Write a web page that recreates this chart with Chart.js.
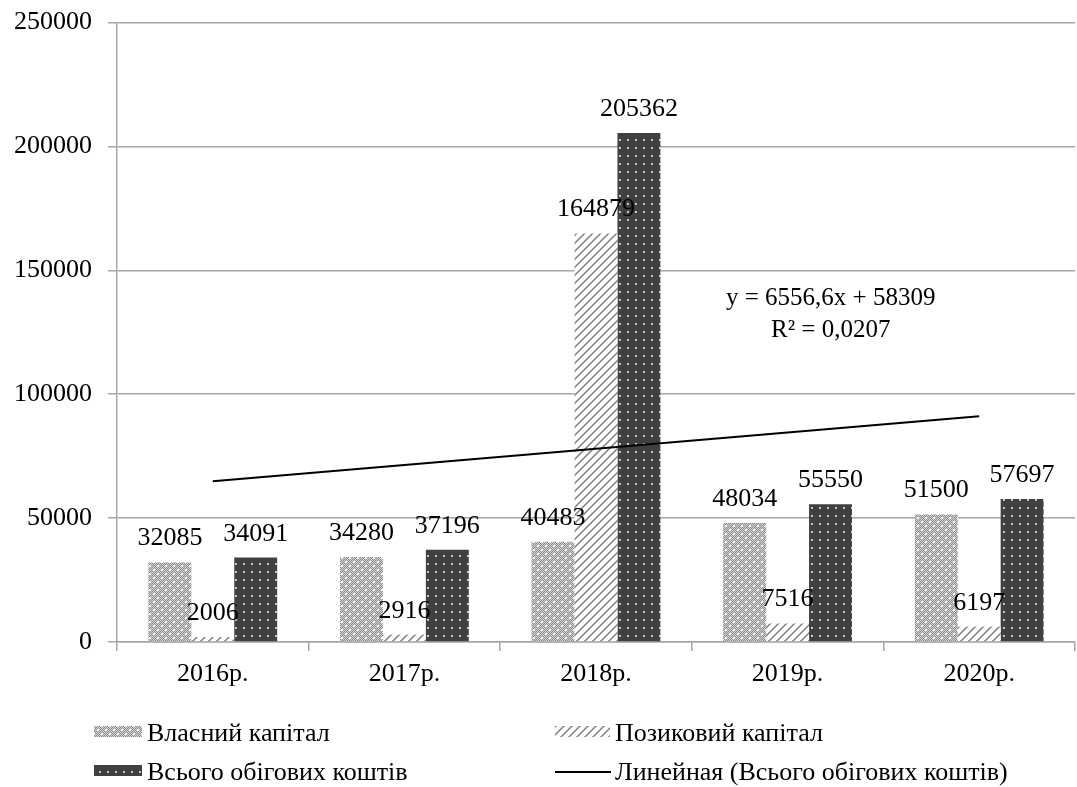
<!DOCTYPE html>
<html lang="uk">
<head>
    <meta charset="UTF-8">
    <title>Власний та позиковий капітал</title>
    <script src="https://cdn.jsdelivr.net/npm/chart.js"></script>
    <style>
        body { margin: 0; background: #fff; }
        .chart-box { width: 1077px; height: 787px; }
    </style>
</head>
<body>
    <div class="chart-box">
        <canvas id="capitalChart" width="1077" height="787"></canvas>
    </div>

    <script>
        // data
        const categories = ['2016р.', '2017р.', '2018р.', '2019р.', '2020р.'];
        const ownCapital = [32085, 34280, 40483, 48034, 51500];
        const borrowedCapital = [2006, 2916, 164879, 7516, 6197];
        const totalCurrent = [34091, 37196, 205362, 55550, 57697];
        const trendValues = [64866, 71422, 77979, 84536, 91092];
        const seriesNames = ['Власний капітал', 'Позиковий капітал', 'Всього обігових коштів', 'Линейная (Всього обігових коштів)'];
        const trendText = ['y = 6556,6x + 58309', 'R² = 0,0207'];
        const yMax = 250000;
        const yStep = 50000;

        const FONT = '"Liberation Serif", "Times New Roman", serif';
        const FONT_SIZE = 26;
        const GRID = '#a6a6a6';

        // fill patterns like the excel ones
        function makePattern(size, draw) {
            const c = document.createElement('canvas');
            c.width = size; c.height = size;
            const g = c.getContext('2d');
            draw(g, size);
            return document.getElementById('capitalChart').getContext('2d').createPattern(c, 'repeat');
        }

        const ownPattern = makePattern(8, (g, s) => {
            for (let x = 0; x < s; x++) {
                for (let y = 0; y < s; y++) {
                    g.fillStyle = (x + y) % 2 ? '#8c8c8c' : '#d4d4d4';
                    g.fillRect(x, y, 1, 1);
                }
            }
            g.fillStyle = '#ffffff';
            g.fillRect(1, 1, 2, 2);
            g.fillRect(5, 5, 2, 2);
        });

        const borrowedPattern = makePattern(8, (g, s) => {
            g.fillStyle = '#ffffff';
            g.fillRect(0, 0, s, s);
            for (let x = 0; x < s; x++) {
                for (let y = 0; y < s; y++) {
                    const d = (x + y) % 8;
                    if (d < 3) {
                        g.fillStyle = d === 1 ? '#858585' : '#b4b4b4';
                        g.fillRect(x, y, 1, 1);
                    }
                }
            }
        });

        const totalPattern = makePattern(8, (g, s) => {
            g.fillStyle = '#404040';
            g.fillRect(0, 0, s, s);
            g.fillStyle = '#bdbdbd';
            g.fillRect(3, 3, 2, 2);
            g.fillStyle = '#e6e6e6';
            g.fillRect(3, 3, 1, 1);
        });

        const barPatterns = [ownPattern, borrowedPattern, totalPattern];

        // values above bars, trend equation, bottom legend
        const extrasPlugin = {
            id: 'extras',
            afterDatasetsDraw(chart) {
                const ctx = chart.ctx;
                const ys = chart.scales.y;
                ctx.save();
                ctx.font = FONT_SIZE + 'px ' + FONT;
                ctx.fillStyle = '#000';
                ctx.textAlign = 'center';
                ctx.textBaseline = 'alphabetic';
                for (let d = 0; d < 3; d++) {
                    const meta = chart.getDatasetMeta(d);
                    meta.data.forEach((bar, i) => {
                        ctx.fillText(String(chart.data.datasets[d].data[i]), bar.x, bar.y - 17);
                    });
                }

                // equation of the trend line
                const area = chart.chartArea;
                const tx = area.left + (area.right - area.left) * 0.745;
                ctx.font = '25px ' + FONT;
                ctx.textBaseline = 'middle';
                ctx.fillText(trendText[0], tx, ys.getPixelForValue(138700));
                ctx.fillText(trendText[1], tx, ys.getPixelForValue(125800));

                // legend, two columns
                ctx.font = FONT_SIZE + 'px ' + FONT;
                ctx.textAlign = 'left';
                const swatchX = [94, 555];
                const textX = [147, 615];
                const rows = [732, 771];
                for (let k = 0; k < 4; k++) {
                    const col = k % 2;
                    const ly = rows[Math.floor(k / 2)];
                    if (k < 3) {
                        ctx.fillStyle = barPatterns[k];
                        const w = col === 0 ? 48 : 55;
                        ctx.fillRect(swatchX[col], ly - 6, w, 11);
                    } else {
                        ctx.strokeStyle = '#000';
                        ctx.lineWidth = 2;
                        ctx.beginPath();
                        ctx.moveTo(swatchX[col], ly + 1);
                        ctx.lineTo(swatchX[col] + 56, ly + 1);
                        ctx.stroke();
                    }
                    ctx.fillStyle = '#000';
                    ctx.fillText(seriesNames[k], textX[col], ly + 2);
                }
                ctx.restore();
            }
        };

        const barSets = [ownCapital, borrowedCapital, totalCurrent].map((vals, i) => ({
            type: 'bar',
            label: seriesNames[i],
            data: vals,
            backgroundColor: barPatterns[i],
            borderWidth: 0,
            barPercentage: 1.0,
            categoryPercentage: 0.672,
            order: 2
        }));

        new Chart(document.getElementById('capitalChart').getContext('2d'), {
            data: {
                labels: categories,
                datasets: barSets.concat([{
                    type: 'line',
                    label: seriesNames[3],
                    data: trendValues,
                    borderColor: '#000',
                    borderWidth: 2,
                    pointRadius: 0,
                    fill: false,
                    tension: 0,
                    order: 1
                }])
            },
            options: {
                responsive: false,
                animation: false,
                layout: { padding: { top: 22, right: 2, left: 0, bottom: 0 } },
                plugins: {
                    legend: { display: false },
                    tooltip: { enabled: false }
                },
                scales: {
                    x: {
                        afterFit(scale) { scale.height = 145; },
                        grid: { drawOnChartArea: false, drawTicks: true, tickLength: 9, color: GRID, lineWidth: 1.5 },
                        border: { display: true, color: GRID, width: 1.5 },
                        ticks: { color: '#000', font: { family: FONT, size: FONT_SIZE }, padding: 8, maxRotation: 0 }
                    },
                    y: {
                        min: 0,
                        max: yMax,
                        afterFit(scale) { scale.width = 117; },
                        grid: { drawTicks: true, tickLength: 9, color: GRID, lineWidth: 1.5 },
                        border: { display: true, color: GRID, width: 1.5 },
                        ticks: {
                            stepSize: yStep,
                            color: '#000',
                            font: { family: FONT, size: FONT_SIZE, lineHeight: 0.5 },
                            padding: 16,
                            callback: v => String(v)
                        }
                    }
                }
            },
            plugins: [extrasPlugin]
        });
    </script>
</body>
</html>
